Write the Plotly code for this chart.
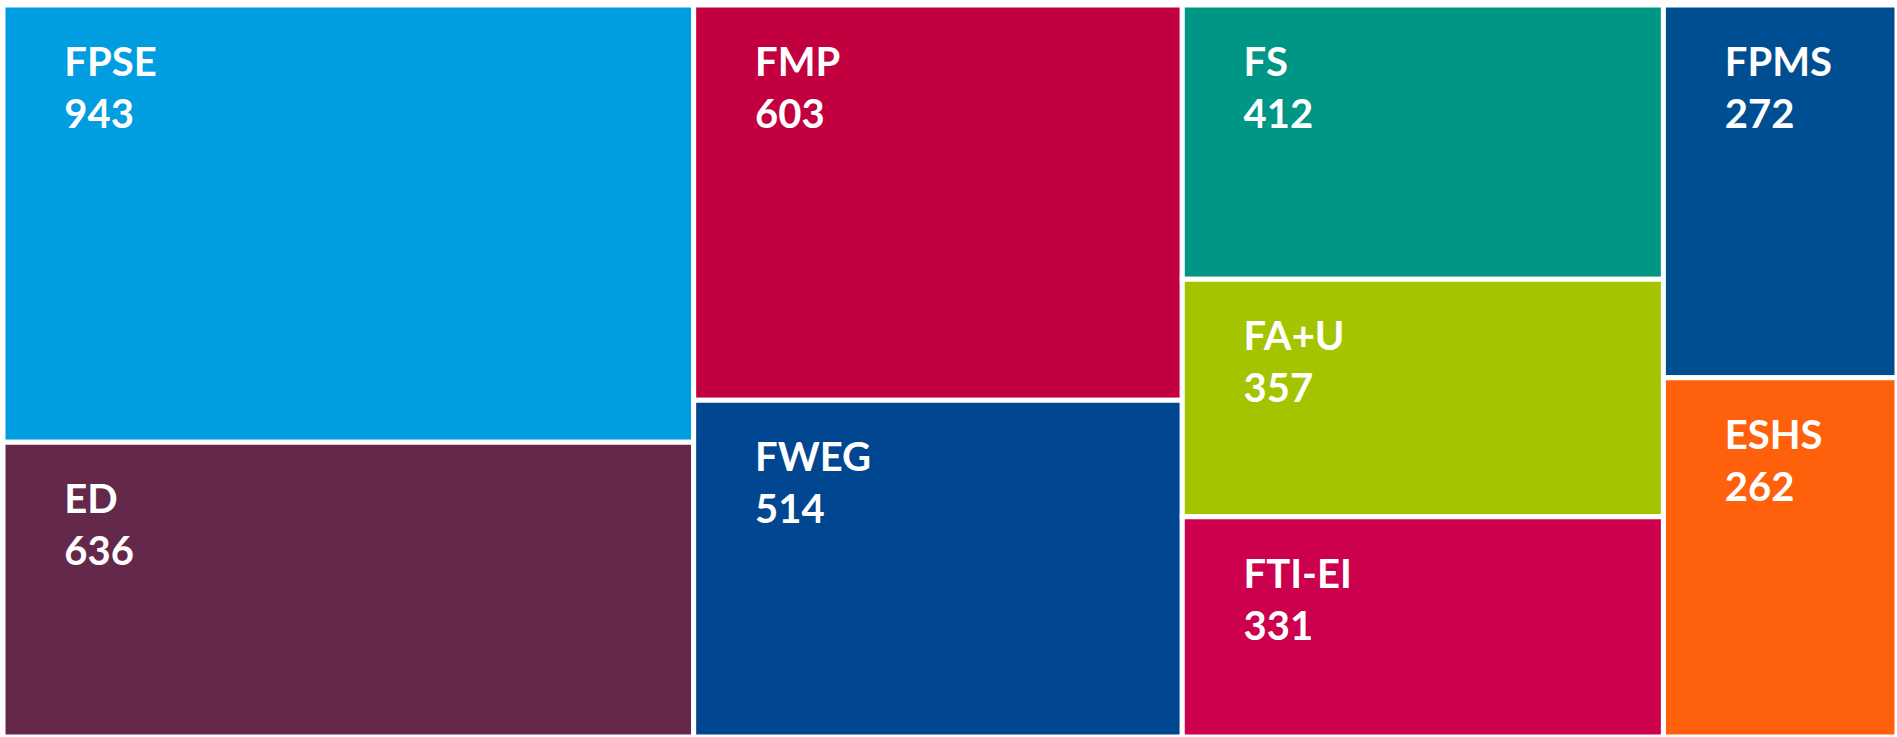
import plotly.graph_objects as go

# Data
labels = ["FPSE", "ED", "FMP", "FWEG", "FS", "FA+U", "FTI-EI", "FPMS", "ESHS"]
values = [943, 636, 603, 514, 412, 357, 331, 272, 262]
groups = ["c1", "c1", "c2", "c2", "c3", "c3", "c3", "c4", "c4"]
group_ids = ["c1", "c2", "c3", "c4"]
colors = ["#009EE0", "#64294A", "#C3003F", "#004690", "#009685",
          "#A5C400", "#CC004C", "#004E92", "#FF600C"]

ids = group_ids + labels
parents = [""] * len(group_ids) + groups
names = [""] * len(group_ids) + labels
vals = [sum(v for v, g in zip(values, groups) if g == gid) for gid in group_ids] + values
cols = ["#FFFFFF"] * len(group_ids) + colors
pad = "\u00a0" * 6
lead = "<span style='font-size:16px'>\u00a0</span><br>"
templates = [" "] * len(group_ids) + [
    lead + pad + "%{label}<br>" + pad + "%{value}" for _ in labels
]

fig = go.Figure(go.Treemap(
    ids=ids,
    labels=names,
    parents=parents,
    values=vals,
    branchvalues="total",
    sort=False,
    texttemplate=templates,
    textposition="top left",
    textfont=dict(family="Lato", size=40, color="white", weight="bold"),
    marker=dict(colors=cols, line=dict(color="white", width=5),
                pad=dict(t=0, l=0, r=0, b=0)),
    tiling=dict(packing="slice-dice", pad=0),
    pathbar=dict(visible=False),
    hoverinfo="skip",
))

fig.update_layout(
    width=1897, height=737,
    margin=dict(l=3, r=0, t=5, b=0),
    paper_bgcolor="white",
    uniformtext=dict(minsize=40),
)

fig.write_html("out.html", config={"displayModeBar": False},
               post_script="document.body.style.margin='0';")
